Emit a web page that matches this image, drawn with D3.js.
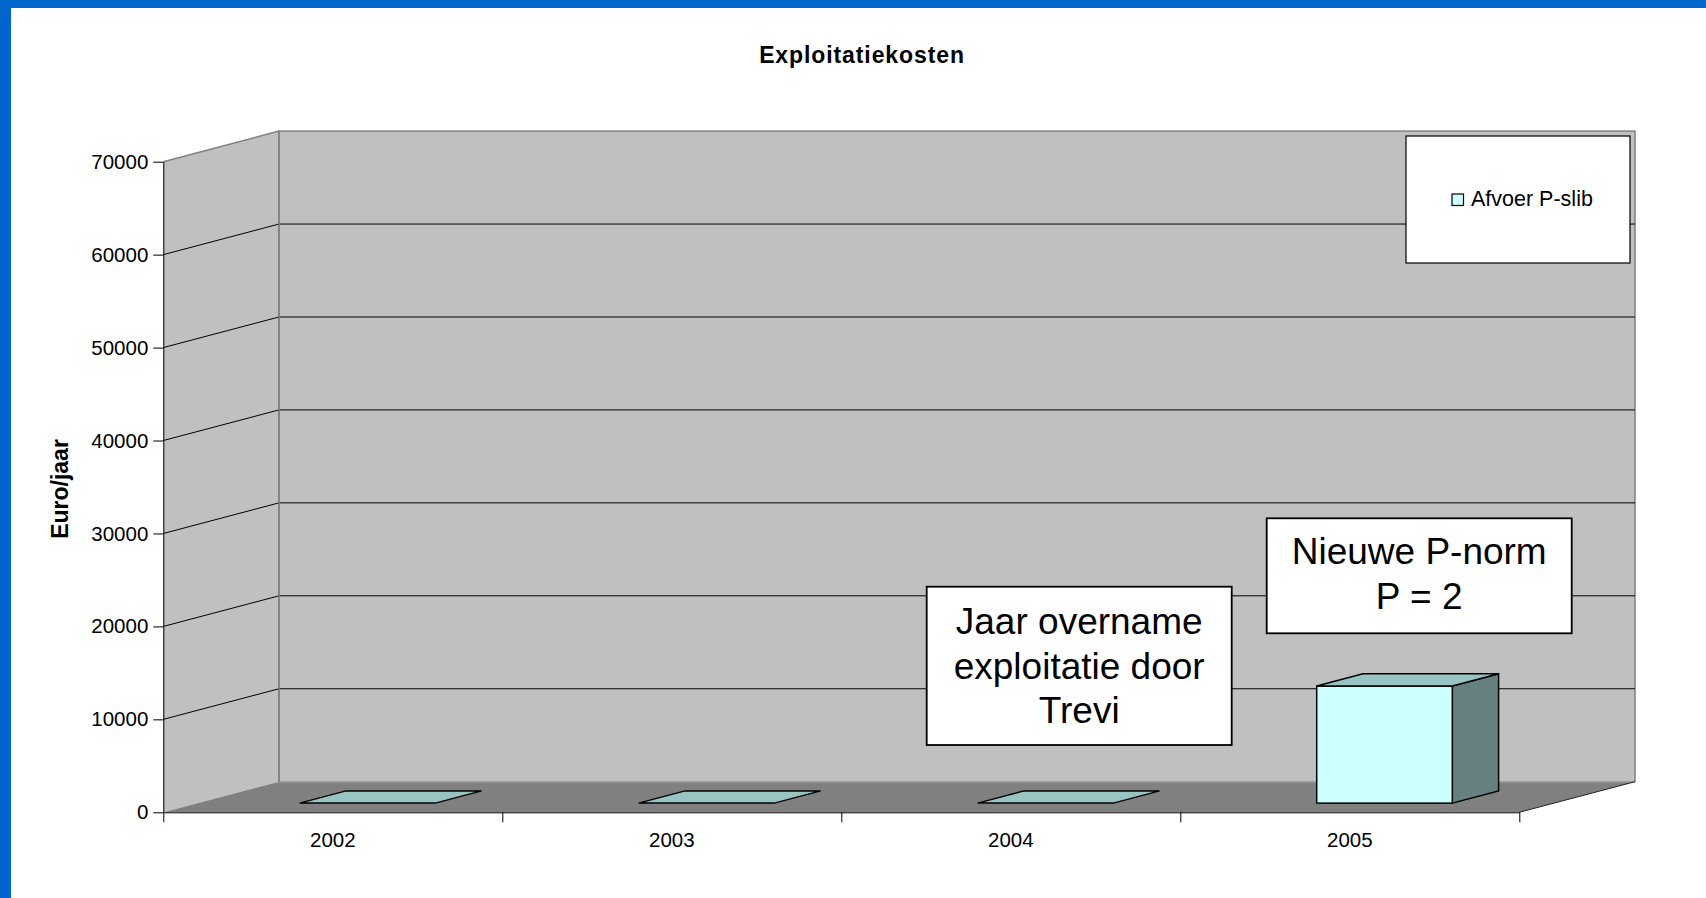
<!DOCTYPE html>
<html>
<head>
<meta charset="utf-8">
<script src="https://cdn.jsdelivr.net/npm/d3@7"></script>
<style>
  html, body { margin: 0; padding: 0; background: #ffffff; }
  svg { display: block; }
  text { font-family: Arial, "Liberation Sans", sans-serif; fill: #000; }
</style>
</head>
<body>
<svg id="chart" width="1706" height="898"></svg>
<script>
// ---- data ----
const categories = ["2002", "2003", "2004", "2005"];
const values = [0, 0, 0, 12600];
const seriesName = "Afvoer P-slib";
const yTicks = [0, 10000, 20000, 30000, 40000, 50000, 60000, 70000];
const titleText = "Exploitatiekosten";
const yLabel = "Euro/jaar";
const noteA = ["Jaar overname", "exploitatie door", "Trevi"];
const noteB = ["Nieuwe P-norm", "P = 2"];

// ---- layout ----
const W = 1706, H = 898;
const X0 = 163.3, X1 = 1519.3, Y0 = 812.3, Y1 = 161.7;
const DX = 115.7, DY = 30.6;      // depth offset of the 3D walls
const F1 = 0.30, F2 = 0.70;       // bar front / back depth fractions

const svg = d3.select("#chart");

// page frame (blue top + left edge)
svg.append("rect").attr("x", 0).attr("y", 0).attr("width", W).attr("height", H).attr("fill", "#0066CC");
svg.append("rect").attr("x", 11).attr("y", 8).attr("width", W - 11).attr("height", H - 8).attr("fill", "#ffffff");

const x = d3.scaleBand().domain(categories).range([X0, X1]).paddingInner(0.6).paddingOuter(0.3);
const xb = d3.scaleLinear().domain([0, categories.length]).range([X0, X1]);
const y = d3.scaleLinear().domain([0, 70000]).range([Y0, Y1]);
const yMax = y(d3.max(yTicks));

// side wall
svg.append("polygon")
  .attr("points", [[X0, yMax], [X0 + DX, yMax - DY], [X0 + DX, Y0 - DY], [X0, Y0]].map(p => p.join(",")).join(" "))
  .attr("fill", "#C0C0C0").attr("stroke", "none");
// back wall
svg.append("rect")
  .attr("x", X0 + DX).attr("y", yMax - DY).attr("width", X1 - X0).attr("height", Y0 - yMax)
  .attr("fill", "#C0C0C0").attr("stroke", "#808080").attr("stroke-width", 1.5);
// side wall top edge
svg.append("line").attr("x1", X0).attr("y1", yMax).attr("x2", X0 + DX).attr("y2", yMax - DY)
  .attr("stroke", "#808080").attr("stroke-width", 1.5);

// gridlines
const grid = svg.append("g");
yTicks.filter(t => t > 0 && t < d3.max(yTicks)).forEach(t => {
  grid.append("polyline")
    .attr("points", [[X0, y(t)], [X0 + DX, y(t) - DY], [X1 + DX, y(t) - DY]].map(p => p.join(",")).join(" "))
    .attr("fill", "none").attr("stroke", "#000").attr("stroke-width", 1);
});

// floor
svg.append("polygon")
  .attr("points", [[X0, Y0], [X0 + DX, Y0 - DY], [X1 + DX, Y0 - DY], [X1, Y0]].map(p => p.join(",")).join(" "))
  .attr("fill", "#808080").attr("stroke", "none");
svg.append("line").attr("x1", X0 + DX).attr("y1", Y0 - DY).attr("x2", X1 + DX).attr("y2", Y0 - DY)
  .attr("stroke", "#A0A0A0").attr("stroke-width", 1.5);
svg.append("line").attr("x1", X1).attr("y1", Y0).attr("x2", X1 + DX).attr("y2", Y0 - DY)
  .attr("stroke", "#222").attr("stroke-width", 1);
svg.append("line").attr("x1", X0 + DX).attr("y1", yMax - DY).attr("x2", X0 + DX).attr("y2", Y0 - DY)
  .attr("stroke", "#808080").attr("stroke-width", 1.5);

// bars
const bw = x.bandwidth();
const bars = svg.append("g");
categories.forEach((c, i) => {
  const v = values[i];
  const fx = x(c) + F1 * DX, fy0 = y(0) - F1 * DY, fyv = y(v) - F1 * DY;
  const bx = x(c) + F2 * DX, by0 = y(0) - F2 * DY, byv = y(v) - F2 * DY;
  const g = bars.append("g").attr("stroke", "#000").attr("stroke-width", 1.5).attr("stroke-linejoin", "miter");
  if (v > 0) {
    g.append("polygon")
      .attr("points", [[fx + bw, fyv], [bx + bw, byv], [bx + bw, by0], [fx + bw, fy0]].map(p => p.join(",")).join(" "))
      .attr("fill", "#668080");
    g.append("rect").attr("x", fx).attr("y", fyv).attr("width", bw).attr("height", fy0 - fyv)
      .attr("fill", "#CCFFFF");
  }
  g.append("polygon")
    .attr("points", [[fx, fyv], [fx + bw, fyv], [bx + bw, byv], [bx, byv]].map(p => p.join(",")).join(" "))
    .attr("fill", "#99C4C4");
});

// y axis
const yAxis = svg.append("g").attr("transform", `translate(${X0},0)`)
  .call(d3.axisLeft(y).tickValues(yTicks).tickFormat(d3.format("d")).tickSize(10).tickSizeOuter(0).tickPadding(5));
yAxis.selectAll("text").style("font-size", "20.5px").style("font-family", "Arial, 'Liberation Sans', sans-serif").attr("fill", "#000");
yAxis.selectAll("line").attr("stroke", "#000");
yAxis.select(".domain").attr("stroke", "#000");

// x axis: boundary ticks
const xAxisT = svg.append("g").attr("transform", `translate(0,${Y0})`)
  .call(d3.axisBottom(xb).ticks(categories.length).tickFormat("").tickSize(10).tickSizeOuter(0));
xAxisT.selectAll("line").attr("stroke", "#000");
xAxisT.select(".domain").attr("stroke", "#000");
// x axis: labels
const xAxisL = svg.append("g").attr("transform", `translate(0,${Y0})`)
  .call(d3.axisBottom(x).tickSize(0).tickPadding(20.5));
xAxisL.select(".domain").remove();
xAxisL.selectAll("text").style("font-size", "20.5px").style("font-family", "Arial, 'Liberation Sans', sans-serif").attr("fill", "#000");

// title
svg.append("text").attr("x", 862).attr("y", 63).attr("text-anchor", "middle")
  .style("font-size", "23px").style("font-weight", "bold").style("letter-spacing", "0.9px").text(titleText);

// y label
svg.append("text").attr("transform", "translate(68,489) rotate(-90)").attr("text-anchor", "middle")
  .style("font-size", "23px").style("font-weight", "bold").text(yLabel);

// legend
const leg = svg.append("g");
leg.append("rect").attr("x", 1406).attr("y", 136).attr("width", 224).attr("height", 127)
  .attr("fill", "#fff").attr("stroke", "#000").attr("stroke-width", 1.2);
leg.append("rect").attr("x", 1452).attr("y", 194).attr("width", 11.5).attr("height", 11.5)
  .attr("fill", "#CCFFFF").attr("stroke", "#000").attr("stroke-width", 1.2);
leg.append("text").attr("x", 1471).attr("y", 206).style("font-size", "21.5px").text(seriesName);

// annotation boxes
function note(lines, bx, by, bwid, bht, baselines) {
  const g = svg.append("g");
  g.append("rect").attr("x", bx).attr("y", by).attr("width", bwid).attr("height", bht)
    .attr("fill", "#fff").attr("stroke", "#000").attr("stroke-width", 1.8);
  lines.forEach((l, i) => {
    g.append("text").attr("x", bx + bwid / 2).attr("y", baselines[i]).attr("text-anchor", "middle")
      .style("font-size", "37px").text(l);
  });
}
note(noteA, 926.7, 586.7, 305, 158.3, [634, 678.5, 722.5]);
note(noteB, 1266.7, 518.3, 305, 115, [564, 609]);
</script>
</body>
</html>
